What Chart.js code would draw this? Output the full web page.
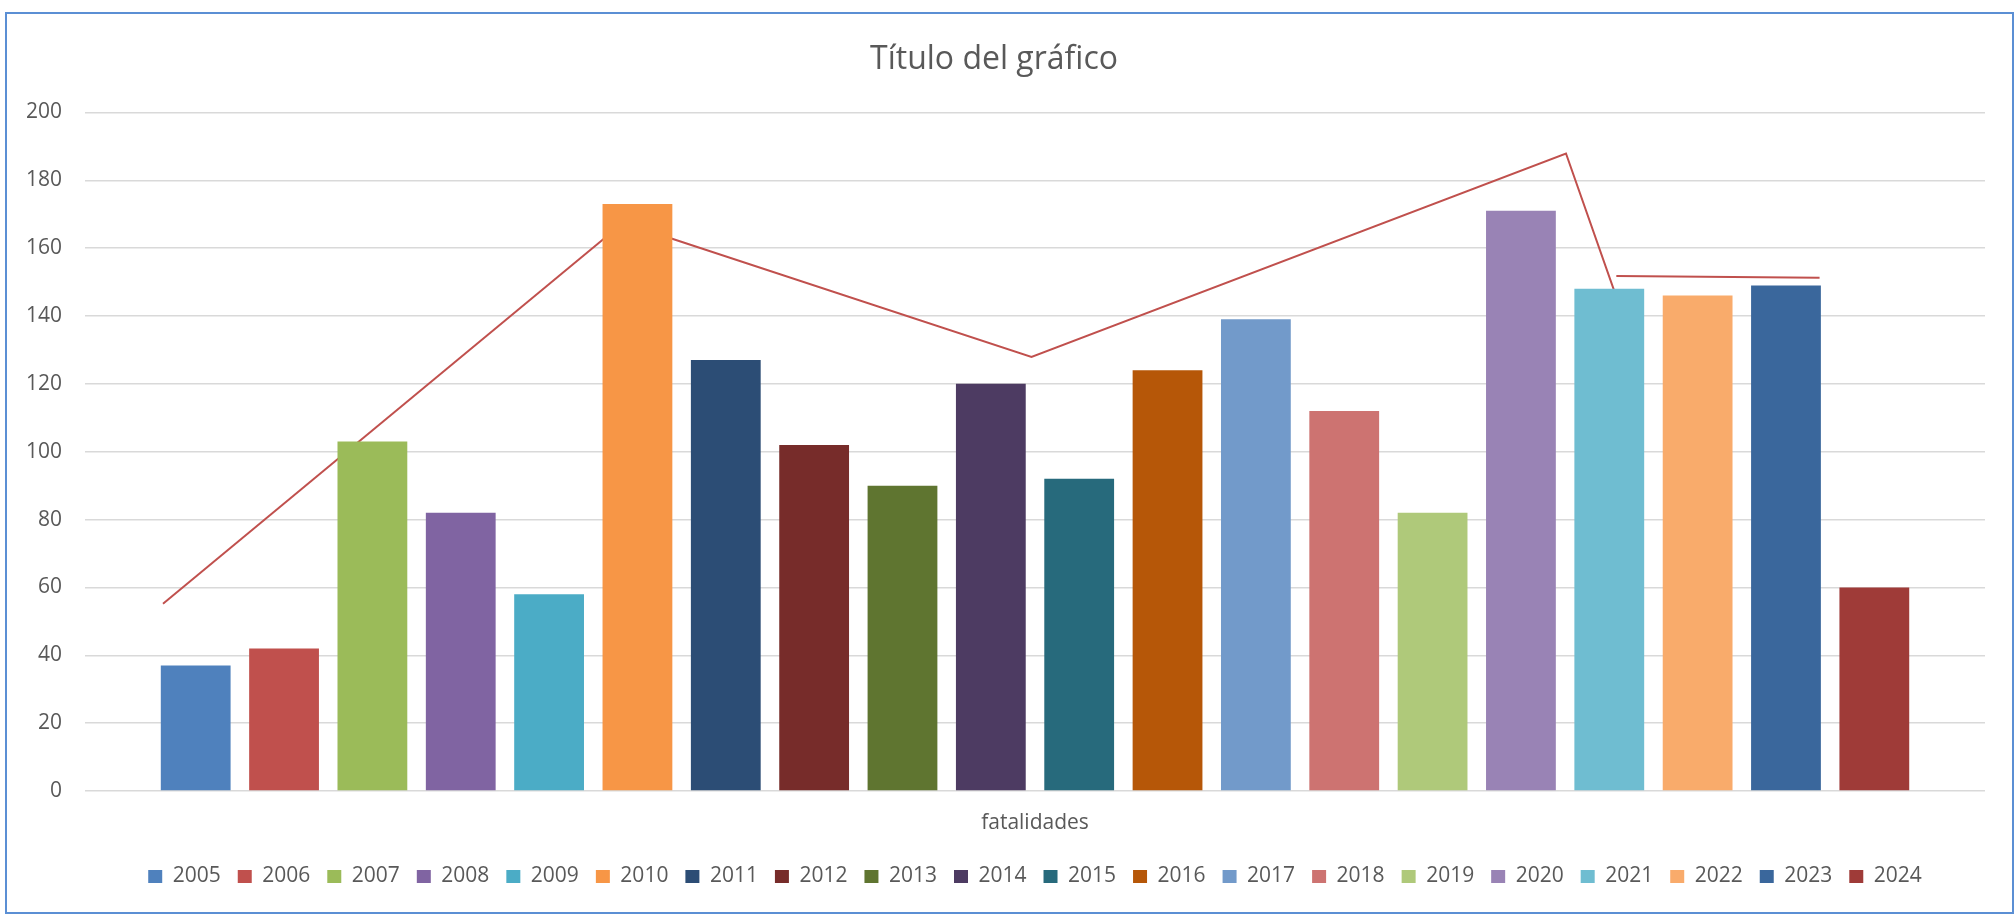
<!DOCTYPE html>
<html>
<head>
<meta charset="utf-8">
<title>Título del gráfico</title>
<script src="https://cdn.jsdelivr.net/npm/chart.js@4.4.1/dist/chart.umd.min.js"></script>
<style>
  html, body { margin: 0; padding: 0; background: #fff; }
  #wrap { position: relative; width: 2016px; height: 920px; }
  #frame {
    position: absolute; left: 5px; top: 12px; width: 2009px; height: 902px;
    box-sizing: border-box; border: 2px solid #5b8fd4; pointer-events: none;
  }
</style>
</head>
<body>
<div id="wrap">
  <canvas id="grafico" width="2016" height="920"></canvas>
  <div id="frame"></div>
</div>
<script>
// datos
const categorias = ["fatalidades"];
const anios = ["2005","2006","2007","2008","2009","2010","2011","2012","2013","2014",
               "2015","2016","2017","2018","2019","2020","2021","2022","2023","2024"];
const fatalidades = [37, 42, 103, 82, 58, 173, 127, 102, 90, 120,
                     92, 124, 139, 112, 82, 171, 148, 146, 149, 60];
const colores = ["#4f81bd","#c0504d","#9bbb59","#8064a2","#4bacc6","#f79646","#2c4d75","#772c2a","#5f7530","#4d3b62",
                 "#276a7c","#b65708","#729aca","#cd7371","#afc97a","#9983b5","#6fbdd1","#f9ab6b","#3a679c","#9f3b38"];
const ticksY = [0, 20, 40, 60, 80, 100, 120, 140, 160, 180, 200];

// trazos rojos dibujados a mano (x = posicion en barras, y = valor)
const trazo1 = [{x: -0.37, y: 55.2}, {x: 5.03, y: 171.6}];
const trazo2 = [{x: 4.98, y: 166.3}, {x: 9.46, y: 127.9}, {x: 15.51, y: 187.9}, {x: 16.06, y: 147.1}];
const trazo3 = [{x: 16.08, y: 151.8}, {x: 18.38, y: 151.3}];

const catPct = 0.93;
const gris = "#595959";
const fuente = "'Open Sans', 'Noto Sans', sans-serif";

// una serie por año, cada una en su posicion del eje
let datasets = anios.map(function (a, i) {
    return {
        type: 'bar',
        label: a,
        data: [{x: i, y: fatalidades[i]}],
        backgroundColor: colores[i],
        borderWidth: 0,
        grouped: false,
        categoryPercentage: 1,
        barPercentage: 0.79
    };
});
[trazo1, trazo2, trazo3].forEach(function (t) {
    datasets.push({
        type: 'line',
        label: 'trazo',
        data: t,
        borderColor: "#c0504d",
        borderWidth: 2,
        pointRadius: 0,
        fill: false,
        tension: 0
    });
});

const mitad = (anios.length - 1) / 2;
const grafico = new Chart(document.getElementById("grafico"), {
    type: 'bar',
    data: { datasets: datasets },
    options: {
        responsive: false,
        animation: false,
        layout: { padding: { left: 3, right: 31, top: 41, bottom: 23 } },
        plugins: {
            title: {
                display: true,
                text: "Título del gráfico",
                color: gris,
                font: { family: fuente, size: 32, weight: 'normal' },
                padding: { top: 0, bottom: 33 }
            },
            legend: {
                position: 'bottom',
                fullSize: false,
                labels: {
                    filter: function (item) { return item.datasetIndex < anios.length; },
                    color: gris,
                    font: { family: fuente, size: 21 },
                    boxWidth: 14,
                    boxHeight: 13,
                    padding: 17
                }
            },
            tooltip: { enabled: false }
        },
        scales: {
            x: {
                type: 'linear',
                offset: false,
                min: mitad - (anios.length / 2) / catPct,
                max: mitad + (anios.length / 2) / catPct,
                afterBuildTicks: function (s) { s.ticks = [{ value: mitad }]; },
                grid: { display: false, offset: false },
                border: { display: false },
                ticks: {
                    color: gris, font: { family: fuente, size: 21 }, padding: 11,
                    callback: function () { return categorias[0]; }
                },
                afterFit: function (s) { s.height = 58; }
            },
            y: {
                min: 0,
                max: 200,
                afterBuildTicks: function (s) { s.ticks = ticksY.map(function (v) { return { value: v }; }); },
                grid: { color: "#d9d9d9", lineWidth: 1.5, drawTicks: false },
                border: { display: false },
                ticks: { color: gris, font: { family: fuente, size: 21 }, padding: 23 }
            }
        }
    }
});
</script>
</body>
</html>
